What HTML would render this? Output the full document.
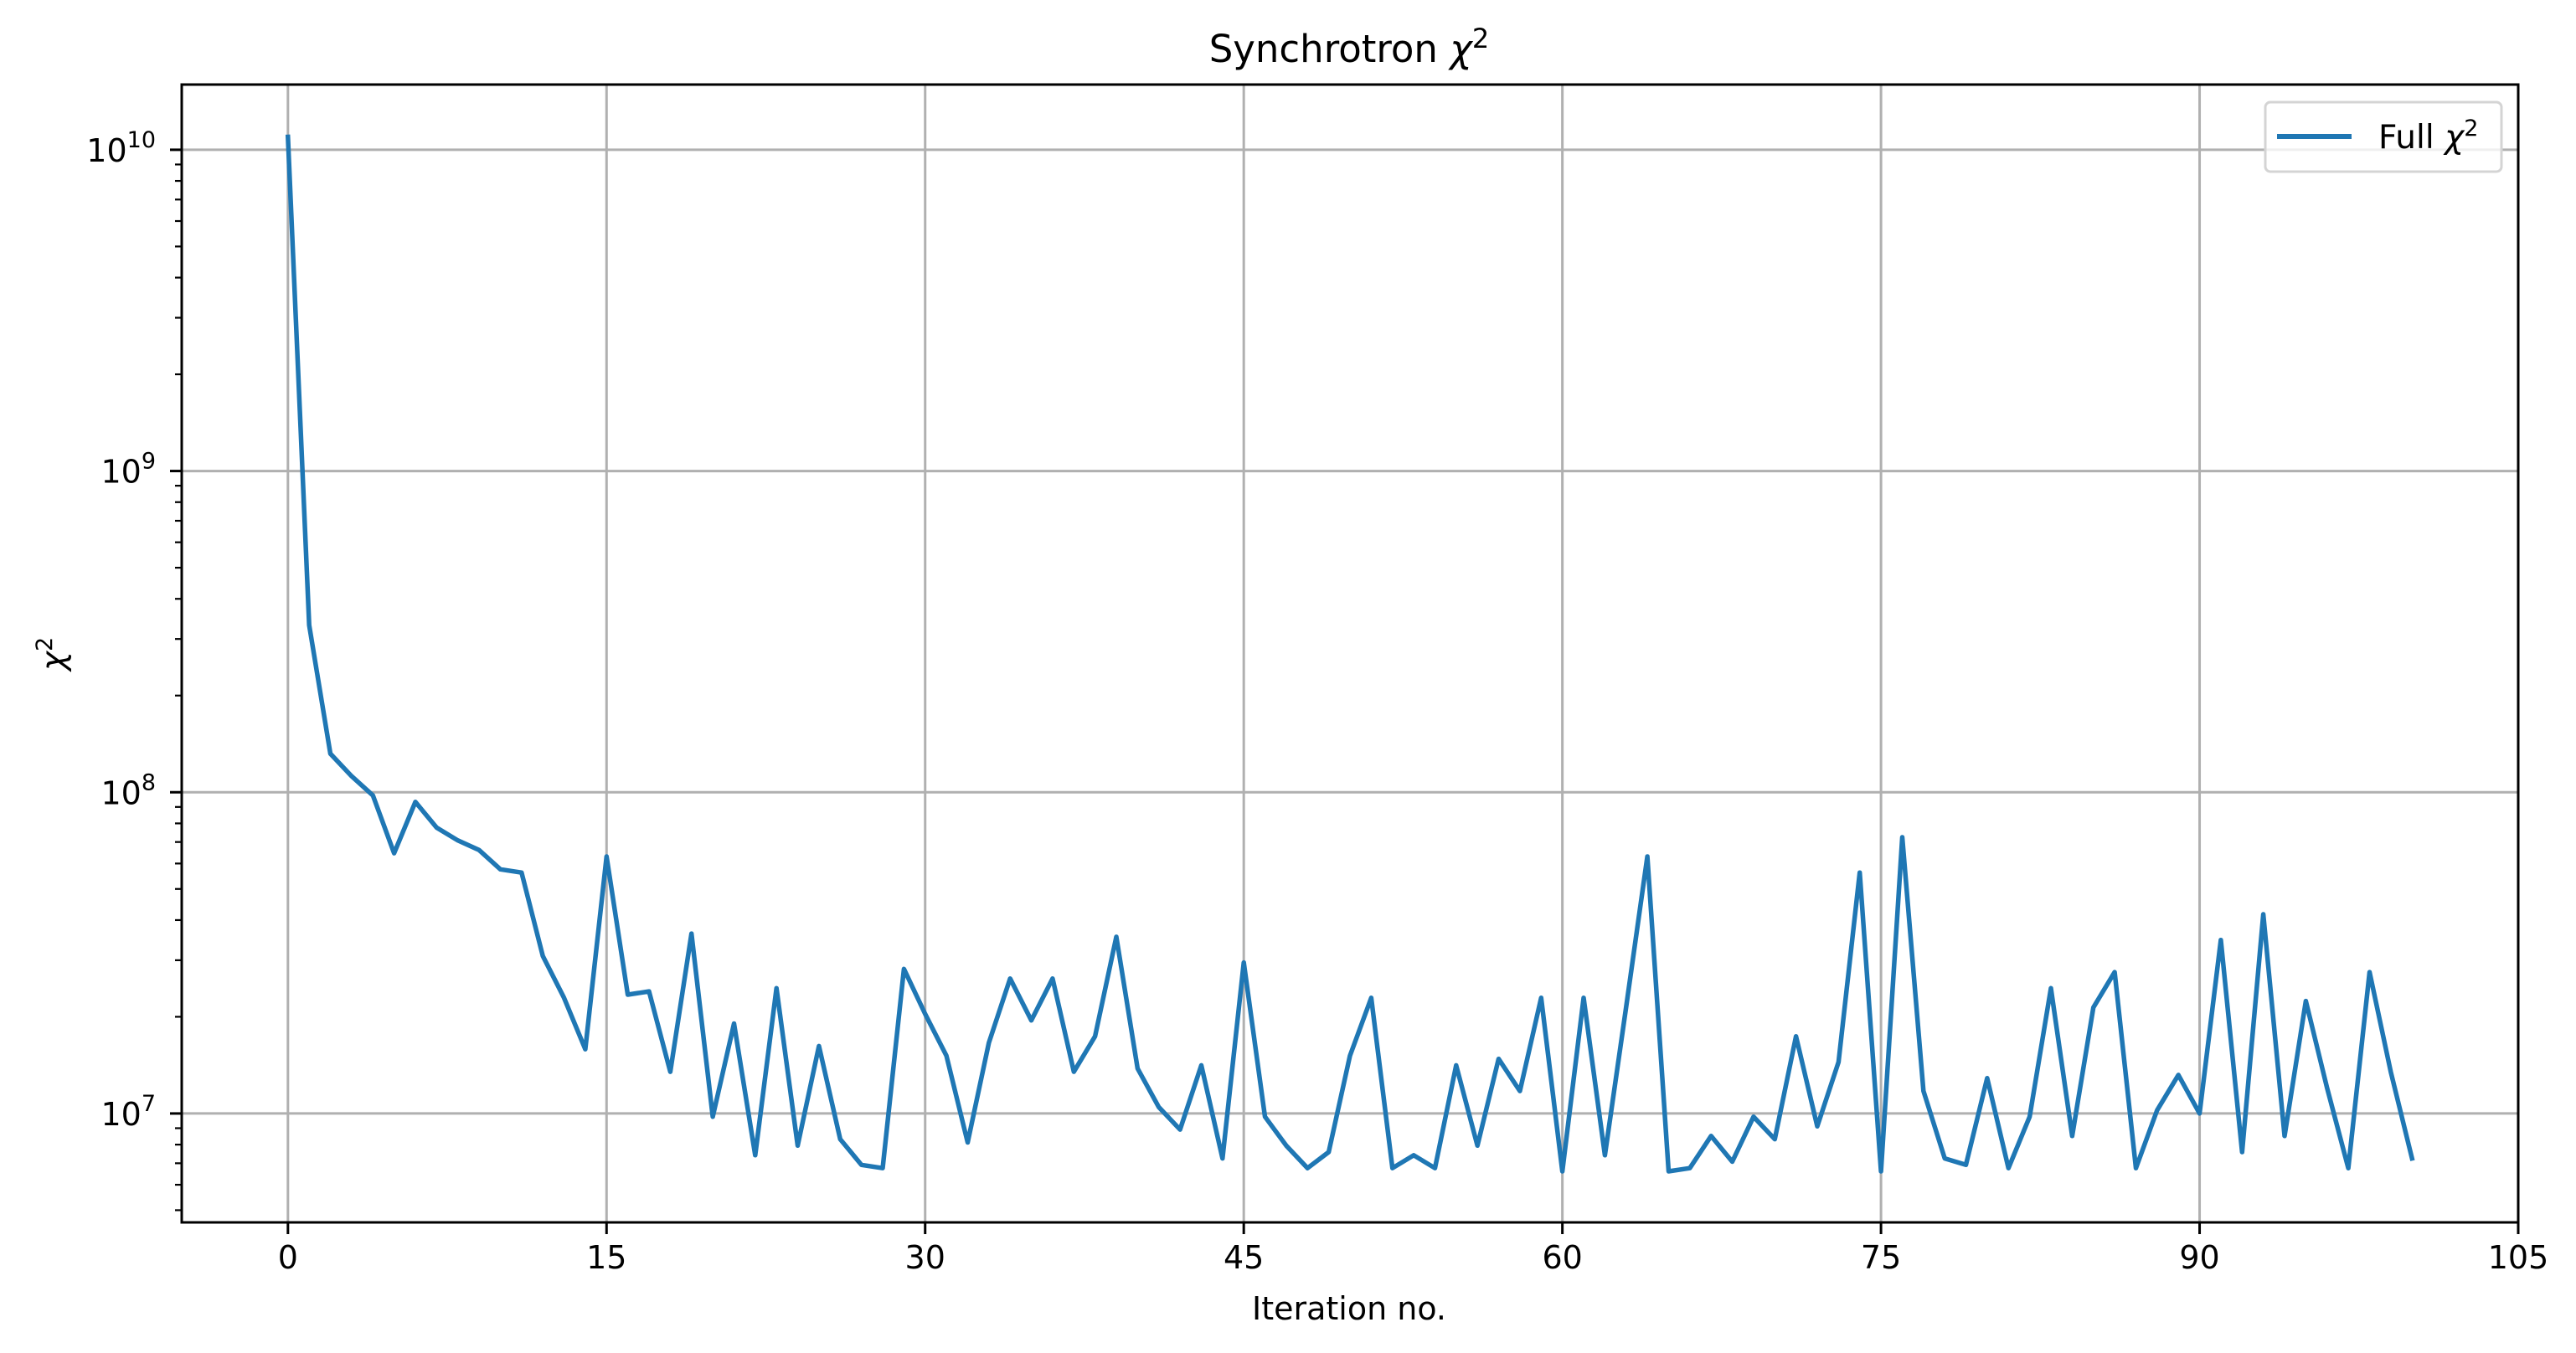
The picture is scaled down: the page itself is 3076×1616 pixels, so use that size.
<!DOCTYPE html>
<html><head><meta charset="utf-8"><style>
html,body{margin:0;padding:0;background:#fff;}
svg{display:block;font-family:"DejaVu Sans","Liberation Sans",sans-serif;}
</style></head><body>
<svg id="chart" width="3076" height="1616" viewBox="0 0 3076 1616" xmlns="http://www.w3.org/2000/svg">
<rect width="3076" height="1616" fill="#fff"/>
<g id="grid"></g>
<g id="series"></g>
<rect x="217" y="101" width="2790" height="1359" fill="none" stroke="#000" stroke-width="3"/>
<g id="ticks"></g>
<text x="1611" y="74" font-size="45" text-anchor="middle">Synchrotron <tspan font-style="italic">χ</tspan><tspan font-size="32" dy="-17">2</tspan></text>
<text x="1611" y="1576" font-size="38" text-anchor="middle">Iteration no.</text>
<text transform="translate(77,781) rotate(-90)" font-size="39" text-anchor="middle"><tspan font-style="italic">χ</tspan><tspan font-size="27" dy="-15">2</tspan></text>
<g>
<rect x="2705" y="122" width="282" height="83" rx="6" fill="#fff" fill-opacity="0.8" stroke="#d4d4d4" stroke-width="3"/>
<line x1="2719" y1="163" x2="2808" y2="163" stroke="#1f77b4" stroke-width="6"/>
<text x="2840" y="177" font-size="39">Full <tspan font-style="italic">χ</tspan><tspan font-size="27" dy="-15">2</tspan></text>
</g>
</svg>
<script>
const iterations = Array.from({length:101},(_, i)=>i);
const logChi2 = [10.04,8.52,8.12,8.05,7.99,7.81,7.97,7.89,7.85,7.82,7.76,7.75,7.49,7.36,7.20,7.80,7.37,7.38,7.13,7.56,
6.99,7.28,6.87,7.39,6.90,7.21,6.92,6.84,6.83,7.45,7.31,7.18,6.91,7.22,7.42,7.29,7.42,7.13,7.24,7.55,
7.14,7.02,6.95,7.15,6.86,7.47,6.99,6.90,6.83,6.88,7.18,7.36,6.83,6.87,6.83,7.15,6.90,7.17,7.07,7.36,
6.82,7.36,6.87,7.33,7.80,6.82,6.83,6.93,6.85,6.99,6.92,7.24,6.96,7.16,7.75,6.82,7.86,7.07,6.86,6.84,
7.11,6.83,6.99,7.39,6.93,7.33,7.44,6.83,7.01,7.12,7.00,7.54,6.88,7.62,6.93,7.35,7.08,6.83,7.44,7.13,6.86];
const chi2 = logChi2.map(v=>Math.pow(10,v));
const xTicks = [0,15,30,45,60,75,90,105];
const yTickExps = [7,8,9,10];

const NS="http://www.w3.org/2000/svg";
const L=217,R=3007,T=101,B=1460;
const xMin=-5,xMax=105,yMin=6.661,yMax=10.203;
const xs=v=>L+(v-xMin)/(xMax-xMin)*(R-L);
const ys=v=>B-(Math.log10(v)-yMin)/(yMax-yMin)*(B-T);
function mk(tag,attrs,parent){const e=document.createElementNS(NS,tag);for(const k in attrs)e.setAttribute(k,attrs[k]);parent.appendChild(e);return e;}
const grid=document.getElementById('grid'),ticks=document.getElementById('ticks'),series=document.getElementById('series');

xTicks.forEach(t=>{
  const x=xs(t);
  const g=mk('line',{x1:x,y1:T,x2:x,y2:B,stroke:'#b0b0b0','stroke-width':3},grid);
  
  
  const tk=mk('line',{x1:x,y1:B,x2:x,y2:B+14,stroke:'#000','stroke-width':3},ticks);
  
  
  const lb=mk('text',{x:x,y:B+55,'font-size':38,'text-anchor':'middle'},ticks);
  lb.textContent=String(t);
  
  
});
yTickExps.forEach(e=>{
  const y=ys(Math.pow(10,e));
  const g=mk('line',{x1:L,y1:y,x2:R,y2:y,stroke:'#b0b0b0','stroke-width':3},grid);
  
  
  const tk=mk('line',{x1:L-14,y1:y,x2:L,y2:y,stroke:'#000','stroke-width':3},ticks);
  
  
  const lb=mk('text',{x:186,y:y+14,'font-size':38,'text-anchor':'end'},ticks);
  
  
  lb.innerHTML='10<tspan font-size="27" dy="-17">'+e+'</tspan>';
});
for(let e=6;e<=10;e++){for(let m=2;m<=9;m++){
  const v=m*Math.pow(10,e);const lv=Math.log10(v);
  if(lv<yMin||lv>yMax)continue;
  const y=ys(v);
  const tk=mk('line',{x1:L-8,y1:y,x2:L,y2:y,stroke:'#000','stroke-width':2.2},ticks);
  
  
}}
const pts=iterations.map((it,i)=>xs(it).toFixed(1)+','+ys(chi2[i]).toFixed(1)).join(' ');
const pl=mk('polyline',{points:pts,fill:'none',stroke:'#1f77b4','stroke-width':5.5,'stroke-linejoin':'round','stroke-linecap':'square'},series);


</script>
</body></html>
